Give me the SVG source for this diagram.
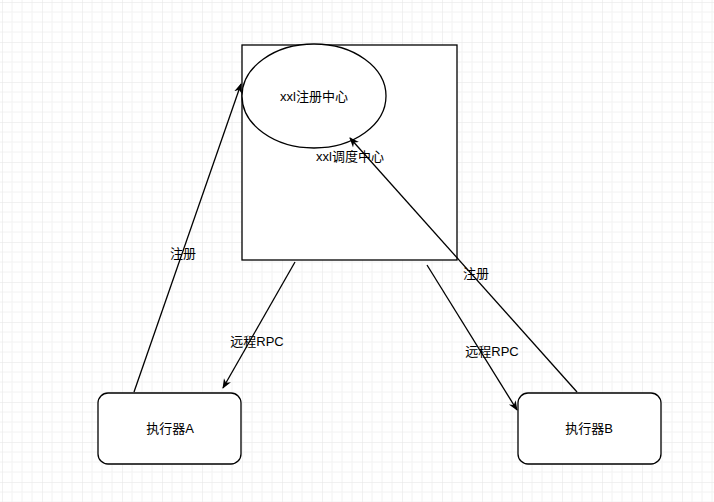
<svg xmlns="http://www.w3.org/2000/svg" width="714" height="502" viewBox="0 0 714 502">
<defs>
<pattern id="g" width="40" height="40" patternUnits="userSpaceOnUse" x="2" y="2">
<path d="M10 0V40M20 0V40M30 0V40M0 10H40M0 20H40M0 30H40" stroke="#f2f2f2" stroke-width="1"/>
<path d="M0 0V40M0 0H40" stroke="#e4e4e4" stroke-width="1"/>
</pattern>
<marker id="a" markerWidth="10" markerHeight="10" refX="9" refY="5" orient="auto" markerUnits="userSpaceOnUse"><path d="M0 1L10 5L0 9L3 5Z" fill="#000"/></marker>
</defs>
<style>
.s{fill:#fff;stroke:#000;stroke-width:1.3}
.t{font-family:"Liberation Sans","Noto Sans CJK SC",sans-serif;font-size:13px;fill:#000;text-anchor:middle}
.c{stroke:#000;stroke-width:1.3;fill:none;marker-end:url(#a)}
</style>
<rect width="714" height="502" fill="#fff"/>
<rect width="714" height="502" fill="url(#g)"/>
<g id="center"><rect class="s" x="242" y="45" width="215" height="215"/></g>
<g id="registry"><ellipse class="s" cx="314" cy="96" rx="72" ry="52"/><text class="t" x="314" y="101">xxl注册中心</text></g>
<g id="execA"><rect class="s" x="98" y="393" width="143" height="71" rx="10"/><text class="t" x="170" y="433">执行器A</text></g>
<g id="execB"><rect class="s" x="518" y="393" width="143" height="71" rx="10"/><text class="t" x="589" y="433">执行器B</text></g>
<g id="connectors">
<path class="c" d="M134 392L241 84"/>
<path class="c" d="M577 392L350 138"/>
<path class="c" d="M295 262L223 388"/>
<path class="c" d="M427 265L517 410"/>
<text class="t" x="183" y="258">注册</text>
<text class="t" x="476" y="278">注册</text>
<text class="t" x="257" y="346">远程RPC</text>
<text class="t" x="492" y="356">远程RPC</text>
<text class="t" x="350" y="161">xxl调度中心</text>
</g>
</svg>
